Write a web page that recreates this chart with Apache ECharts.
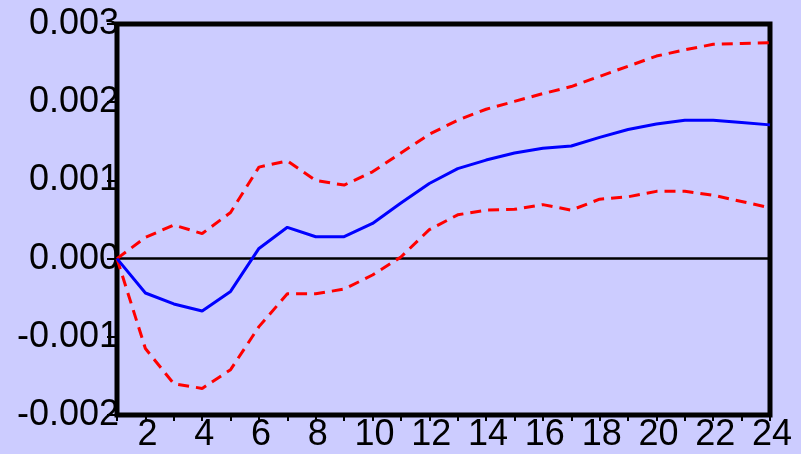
<!DOCTYPE html>
<html>
<head>
<meta charset="utf-8">
<script src="https://cdn.jsdelivr.net/npm/echarts@6/dist/echarts.min.js"></script>
<style>
  html, body { margin: 0; padding: 0; background: #CCCCFF; }
  #chart { width: 801px; height: 454px; }
</style>
</head>
<body>
<div id="chart"></div>
<script>
// Horizon (periods 1..24)
const periods = ['1','2','3','4','5','6','7','8','9','10','11','12','13','14','15','16','17','18','19','20','21','22','23','24'];

// Impulse response and its ±2 S.E. band
const response = [0, -0.00044, -0.00058, -0.00067, -0.00042, 0.00013, 0.00040, 0.00028, 0.00028, 0.00045,
  0.00071, 0.00096, 0.00115, 0.00126, 0.00135, 0.00141, 0.00144, 0.00155, 0.00165, 0.00172,
  0.00177, 0.00177, 0.00174, 0.00171];
const upperBand = [0, 0.00027, 0.00043, 0.00032, 0.00059, 0.00117, 0.00125, 0.00100, 0.00094, 0.00111,
  0.00135, 0.00159, 0.00177, 0.00191, 0.00201, 0.00211, 0.00220, 0.00233, 0.00246, 0.00259,
  0.00267, 0.00274, 0.00275, 0.00276];
const lowerBand = [0, -0.00115, -0.00160, -0.00166, -0.00142, -0.00087, -0.00045, -0.00045, -0.00039, -0.00021,
  0.00002, 0.00037, 0.00056, 0.00062, 0.00063, 0.00069, 0.00062, 0.00076, 0.00079, 0.00086,
  0.00086, 0.00081, 0.00073, 0.00065];

// Value axis range
const yMin = -0.002, yMax = 0.003, yStep = 0.001;

const chart = echarts.init(document.getElementById('chart'), null, { renderer: 'canvas' });

const labelFont = { fontFamily: '"Liberation Sans", Arial, sans-serif', fontSize: 36, color: '#000' };

chart.setOption({
  animation: false,
  backgroundColor: '#CCCCFF',
  grid: {
    left: 117, right: 31, top: 24, bottom: 39,
    show: true, borderColor: '#000', borderWidth: 5, backgroundColor: 'transparent'
  },
  xAxis: {
    type: 'category',
    data: periods,
    boundaryGap: false,
    axisLine: { show: false, onZero: false },
    axisTick: { show: true, inside: false, length: 6, interval: 0, lineStyle: { color: '#000', width: 2 } },
    axisLabel: Object.assign({}, labelFont, {
      margin: 2,
      interval: (i) => i % 2 === 1,
      padding: [0, 0, 0, 4]
    }),
    splitLine: { show: false }
  },
  yAxis: {
    type: 'value',
    min: yMin, max: yMax, interval: yStep,
    axisLine: { show: false, onZero: false },
    axisTick: { show: true, inside: false, length: 10, lineStyle: { color: '#000', width: 2 } },
    axisLabel: Object.assign({}, labelFont, {
      margin: -2,
      formatter: (v) => v.toFixed(3)
    }),
    splitLine: { show: false }
  },
  series: [
    {
      type: 'line',
      data: upperBand,
      symbol: 'none',
      lineStyle: { color: '#FF0000', width: 3, type: [11, 7] },
      z: 3
    },
    {
      type: 'line',
      data: lowerBand,
      symbol: 'none',
      lineStyle: { color: '#FF0000', width: 3, type: [11, 7] },
      z: 3
    },
    {
      type: 'line',
      data: response,
      symbol: 'none',
      lineStyle: { color: '#0000FF', width: 3 },
      z: 4,
      markLine: {
        silent: true,
        symbol: ['none', 'none'],
        label: { show: false },
        lineStyle: { color: '#000', width: 2.5, type: 'solid' },
        data: [{ yAxis: 0 }],
        z: 2
      }
    }
  ]
});
</script>
</body>
</html>
